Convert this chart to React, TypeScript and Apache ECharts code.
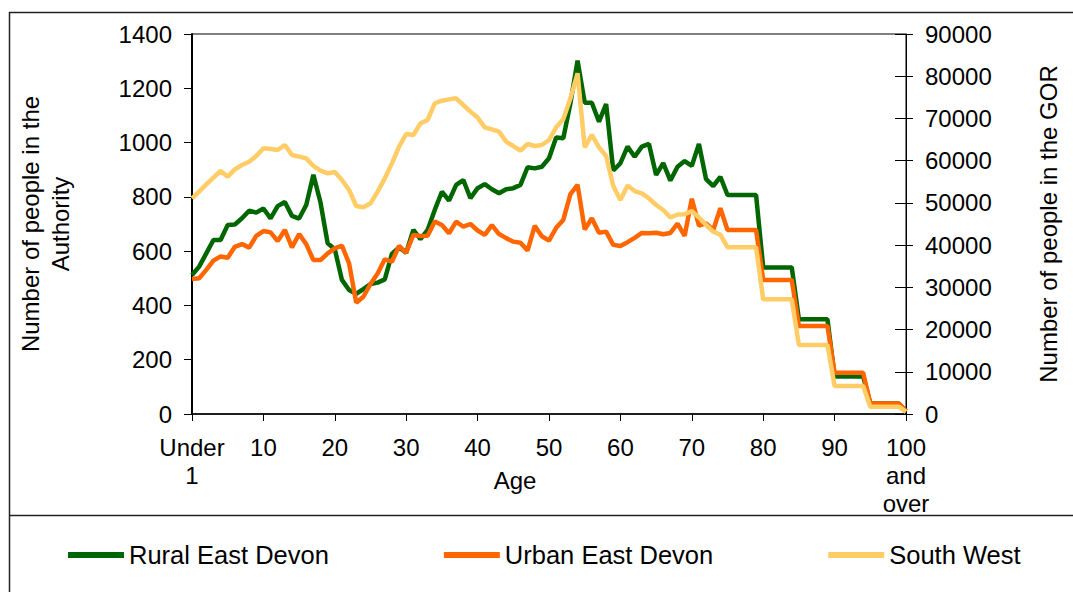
import React, { useEffect, useRef } from "react";
import * as echarts from "echarts";

const ages: string[] = ["Under 1"];
for (let i = 1; i <= 99; i++) ages.push(String(i));
ages.push("100 and over");

const ruralEastDevon = [
  512, 543, 592, 641, 641, 696, 698, 721, 749, 742,
  757, 721, 766, 781, 730, 720, 770, 881, 779, 629,
  607, 494, 457, 443, 460, 479, 484, 496, 590, 614,
  594, 678, 644, 678, 752, 819, 786, 844, 862, 795,
  832, 847, 828, 813, 828, 832, 844, 909, 905, 911,
  942, 1019, 1016, 1145, 1302, 1147, 1147, 1077, 1142, 897,
  924, 985, 948, 985, 995, 881, 924, 860, 911, 932,
  914, 995, 865, 840, 874, 807, 807, 807, 807, 807,
  540, 540, 540, 540, 540, 349, 349, 349, 349, 349,
  138, 138, 138, 138, 138, 39, 39, 39, 39, 39,
  10,
];

const urbanEastDevon = [
  497, 500, 531, 565, 580, 576, 616, 626, 613, 656,
  674, 669, 637, 678, 614, 663, 626, 567, 567, 592,
  610, 620, 555, 410, 432, 479, 518, 570, 561, 619,
  594, 660, 656, 657, 709, 696, 666, 709, 690, 700,
  676, 660, 696, 663, 648, 635, 631, 602, 693, 655,
  639, 686, 715, 810, 844, 680, 721, 668, 672, 623,
  619, 633, 649, 667, 666, 668, 662, 667, 701, 656,
  793, 694, 702, 678, 758, 678, 678, 678, 678, 678,
  494, 494, 494, 494, 494, 324, 324, 324, 324, 324,
  152, 152, 152, 152, 152, 39, 39, 39, 39, 39,
  10,
];

const southWest = [
  51080, 52660, 54390, 55970, 57550, 56210, 57950, 58970, 59760, 61100,
  62920, 62760, 62530, 63710, 61340, 60950, 60550, 58740, 57630, 57000,
  57300, 55420, 53050, 49260, 48950, 49890, 52660, 55810, 59360, 63310,
  66320, 66080, 68840, 69630, 73580, 74210, 74520, 74760, 73180, 71610,
  70200, 67900, 67420, 66870, 64500, 63470, 62370, 63950, 63470, 63710,
  64890, 67900, 69790, 74760, 80690, 63160, 66080, 63160, 61100, 54000,
  50700, 54100, 52800, 52260, 51080, 49500, 48320, 46540, 47250, 47330,
  48040, 46540, 44760, 43180, 42500, 39500, 39500, 39500, 39500, 39500,
  27160, 27160, 27160, 27160, 27160, 16340, 16340, 16340, 16340, 16340,
  6630, 6630, 6630, 6630, 6630, 1740, 1740, 1740, 1740, 1740,
  500,
];

const FONT = "'Liberation Sans', Arial, sans-serif";

export default function App() {
  const ref = useRef<HTMLDivElement>(null);
  useEffect(() => {
    if (!ref.current) return;
    const chart = echarts.init(ref.current, undefined, { renderer: "svg" });
    const lbl = { fontFamily: FONT, fontSize: 24, color: "#000" };
    const plain = (v: number) => String(v);
    chart.setOption({
      animation: false,
      backgroundColor: "#fff",
      textStyle: { fontFamily: FONT, color: "#000" },
      grid: {
        left: 192,
        right: 167,
        top: 34,
        bottom: 178,
        show: true,
        borderColor: "#000",
        borderWidth: 1,
        backgroundColor: "transparent",
      },
      graphic: [
        { type: "line", shape: { x1: 9, y1: 12.5, x2: 1073, y2: 12.5 }, style: { stroke: "#222", lineWidth: 1.5 } },
        { type: "line", shape: { x1: 9.5, y1: 12, x2: 9.5, y2: 592 }, style: { stroke: "#222", lineWidth: 1.5 } },
        { type: "line", shape: { x1: 9, y1: 515.5, x2: 1073, y2: 515.5 }, style: { stroke: "#222", lineWidth: 1.5 } },
        {
          type: "text",
          x: 515,
          y: 480,
          style: {
            text: "Age",
            fontFamily: FONT,
            fontSize: 24,
            fill: "#000",
            align: "center",
            verticalAlign: "middle",
          },
        },
      ],
      legend: {
        left: 68,
        top: 542,
        padding: 0,
        itemWidth: 56,
        itemHeight: 6,
        itemGap: 115,
        icon: "rect",
        textStyle: { ...lbl, fontSize: 25.5 },
        data: ["Rural East Devon", "Urban East Devon", "South West"],
      },
      xAxis: {
        type: "category",
        data: ages,
        boundaryGap: false,
        axisLine: { show: true, lineStyle: { color: "#000", width: 1.5 } },
        axisTick: { show: true, interval: 9, length: 7, lineStyle: { color: "#000" } },
        axisLabel: {
          ...lbl,
          interval: 9,
          margin: 19,
          lineHeight: 28,
          formatter: (v: string) => v.replace(/ /g, "\n"),
        },
        splitLine: { show: false },
      },
      yAxis: [
        {
          type: "value",
          position: "left",
          min: 0,
          max: 1400,
          interval: 200,
          axisLine: { show: true, lineStyle: { color: "#000", width: 2 } },
          axisTick: { show: true, length: 8, lineStyle: { color: "#000" } },
          axisLabel: { ...lbl, margin: 20, formatter: plain },
          splitLine: { show: false },
          name: "Number of people in the\nAuthority",
          nameLocation: "middle",
          nameRotate: 90,
          nameGap: 117,
          nameTextStyle: { ...lbl, lineHeight: 30 },
        },
        {
          type: "value",
          position: "right",
          min: 0,
          max: 90000,
          interval: 10000,
          axisLine: { show: true, lineStyle: { color: "#000", width: 1 } },
          axisTick: { show: true, length: 7, lineStyle: { color: "#000" } },
          axisLabel: { ...lbl, margin: 19, formatter: plain },
          splitLine: { show: false },
          name: "Number of people in the GOR",
          nameLocation: "middle",
          nameRotate: 90,
          nameGap: 130,
          nameTextStyle: { ...lbl },
        },
        {
          type: "value",
          position: "right",
          min: 0,
          max: 90000,
          interval: 10000,
          axisLine: { show: false },
          axisTick: { show: true, inside: true, length: 11, lineStyle: { color: "#000" } },
          axisLabel: { show: false },
          splitLine: { show: false },
        },
      ],
      series: [
        {
          name: "Rural East Devon",
          type: "line",
          data: ruralEastDevon,
          yAxisIndex: 0,
          symbol: "none",
          color: "#006600",
          lineStyle: { width: 4.5, color: "#006600" },
          emphasis: { disabled: true },
        },
        {
          name: "Urban East Devon",
          type: "line",
          data: urbanEastDevon,
          yAxisIndex: 0,
          symbol: "none",
          color: "#FF6600",
          lineStyle: { width: 4.5, color: "#FF6600" },
          emphasis: { disabled: true },
        },
        {
          name: "South West",
          type: "line",
          data: southWest,
          yAxisIndex: 1,
          symbol: "none",
          color: "#FFCC66",
          lineStyle: { width: 4.5, color: "#FFCC66" },
          emphasis: { disabled: true },
        },
      ],
    });
    return () => chart.dispose();
  }, []);
  return (
    <div
      ref={ref}
      style={{ position: "absolute", left: 0, top: 0, width: 1073, height: 592 }}
    />
  );
}
